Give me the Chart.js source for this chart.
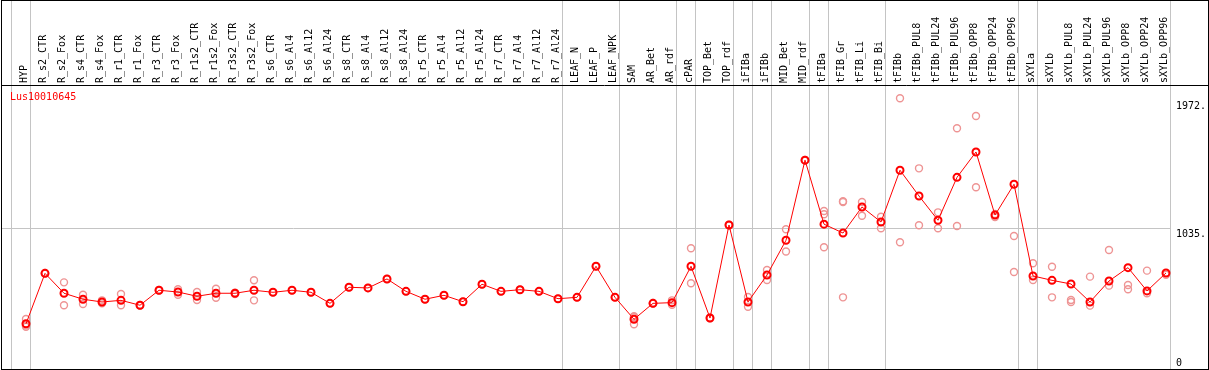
<!DOCTYPE html>
<html><head><meta charset="utf-8">
<script src="https://cdn.jsdelivr.net/npm/chart.js@4/dist/chart.umd.min.js"></script>
<style>html,body{margin:0;padding:0;background:#fff;overflow:hidden}#wrap{width:1209px;height:370px;position:relative}canvas{display:block}</style>
</head><body><div id="wrap"><canvas id="c" width="1209" height="370"></canvas></div>
<script>
const geneName = 'Lus10010645';
const categories = ['HYP','R_s2_CTR','R_s2_Fox','R_s4_CTR','R_s4_Fox','R_r1_CTR','R_r1_Fox','R_r3_CTR','R_r3_Fox','R_r1s2_CTR','R_r1s2_Fox','R_r3s2_CTR','R_r3s2_Fox','R_s6_CTR','R_s6_Al4','R_s6_Al12','R_s6_Al24','R_s8_CTR','R_s8_Al4','R_s8_Al12','R_s8_Al24','R_r5_CTR','R_r5_Al4','R_r5_Al12','R_r5_Al24','R_r7_CTR','R_r7_Al4','R_r7_Al12','R_r7_Al24','LEAF_N','LEAF_P','LEAF_NPK','SAM','AR_Bet','AR_rdf','cPAR','TOP_Bet','TOP_rdf','iFIBa','iFIBb','MID_Bet','MID_rdf','tFIBa','tFIB_Gr','tFIB_Li','tFIB_Bi','tFIBb','tFIBb_PUL8','tFIBb_PUL24','tFIBb_PUL96','tFIBb_OPP8','tFIBb_OPP24','tFIBb_OPP96','sXYLa','sXYLb','sXYLb_PUL8','sXYLb_PUL24','sXYLb_PUL96','sXYLb_OPP8','sXYLb_OPP24','sXYLb_OPP96'];
const meanValues = [332,702,556,512,492,504,468,578,565,534,556,556,578,563,578,563,482,600,595,661,570,512,541,494,622,570,582,570,516,526,754,526,365,482,487,754,374,1057,492,690,945,1533,1063,998,1189,1079,1459,1270,1092,1407,1593,1130,1356,683,651,624,492,646,744,573,705];
const rep1Values = [367,705,636,545,504,550,470,580,585,565,589,560,651,563,578,563,482,600,595,661,570,512,541,494,622,570,582,570,516,526,754,526,387,484,504,886,376,1059,529,727,1026,1535,1160,1232,1226,1118,1987,1473,1150,1767,1857,1116,712,776,751,506,678,874,585,722];
const rep2Values = [320,700,468,477,482,468,465,576,545,506,523,551,504,null,null,null,null,null,null,null,null,null,null,null,null,null,null,null,null,null,null,null,380,480,472,629,372,1055,457,653,863,1531,1136,1226,1125,1033,930,1055,1033,1050,1334,1138,976,653,526,492,465,612,617,556,692];
const rep3Values = [310,null,null,null,null,null,null,null,null,null,null,null,null,null,null,null,null,null,null,null,null,null,null,null,null,null,null,null,null,null,null,null,328,null,null,null,null,null,null,null,null,null,894,526,null,null,null,null,null,null,null,null,null,null,null,null,null,null,null,null,null];
const separatorAfter = [-1,0,28,31,34,35,37,38,39,41,42,45,52,53,60];
const yTickValues = [0,1035,1972];
const yTickLabels = ['0','1035.','1972.'];

const FONT = '"DejaVu Sans Mono", monospace';
const repPoints = [];
[rep1Values, rep2Values, rep3Values].forEach(arr => arr.forEach((v, i) => { if (v !== null) repPoints.push({x: i, y: v}); }));
const meanPoints = meanValues.map((v, i) => ({x: i, y: v}));

const xMin = -25 / 19, xMax = xMin + 1170 / 19;
const isSep = v => !Number.isInteger(v);

const framePlugin = {
  id: 'frame',
  afterDraw(chart) {
    const {ctx, chartArea} = chart;
    ctx.save();
    ctx.strokeStyle = '#000';
    ctx.lineWidth = 1;
    ctx.strokeRect(1.5, 0.5, 1207, 369);
    ctx.beginPath();
    ctx.moveTo(1, chartArea.top + 0.5);
    ctx.lineTo(1208, chartArea.top + 0.5);
    ctx.stroke();
    ctx.fillStyle = '#ff0000';
    ctx.font = '10px ' + FONT;
    ctx.textBaseline = 'middle';
    ctx.textAlign = 'left';
    ctx.fillText(geneName, chartArea.left + 9, chartArea.top + 12);
    ctx.restore();
  }
};

const noPad = s => { s.paddingLeft = 0; s.paddingRight = 0; s.paddingTop = 0; s.paddingBottom = 0; };

new Chart(document.getElementById('c'), {
  data: {
    datasets: [
      { type: 'line', label: 'mean', data: meanPoints, borderColor: '#ff0000', borderWidth: 1, tension: 0,
        pointRadius: 3.5, pointBorderWidth: 2, pointBorderColor: '#ff0000', pointBackgroundColor: 'rgba(0,0,0,0)', order: 0 },
      { type: 'scatter', label: 'replicates', data: repPoints, pointRadius: 3.5, pointBorderWidth: 1.4,
        pointBorderColor: '#ee9494', pointBackgroundColor: 'rgba(0,0,0,0)', order: 1 }
    ]
  },
  options: {
    responsive: false,
    animation: false,
    devicePixelRatio: 1,
    layout: { autoPadding: false, padding: { left: 1, right: 0, top: 0, bottom: 1 } },
    plugins: { legend: { display: false }, tooltip: { enabled: false }, title: { display: false } },
    scales: {
      x: {
        type: 'linear', position: 'top', min: xMin, max: xMax,
        afterBuildTicks: s => {
          const t = categories.map((c, i) => ({value: i}));
          separatorAfter.forEach(k => t.push({value: k + 0.25}));
          t.sort((a, b) => a.value - b.value);
          s.ticks = t;
        },
        afterFit: s => { s.height = 85; noPad(s); },
        ticks: {
          autoSkip: false, minRotation: 90, maxRotation: 90, padding: -83, labelOffset: 10.5,
          font: { family: FONT, size: 10 }, color: '#000',
          callback: v => isSep(v) ? '' : categories[v]
        },
        grid: {
          drawTicks: true, tickLength: 85, lineWidth: 1,
          color: ctx => (ctx.tick && isSep(ctx.tick.value)) ? '#c4c4c4' : 'rgba(0,0,0,0)',
          tickColor: ctx => (ctx.tick && isSep(ctx.tick.value)) ? '#c4c4c4' : 'rgba(0,0,0,0)'
        },
        border: { display: false }
      },
      y: {
        type: 'linear', position: 'right', min: 0, max: 284 * 1035 / 141,
        afterBuildTicks: s => { s.ticks = yTickValues.map(v => ({value: v})); },
        afterFit: s => { s.width = 38; noPad(s); },
        ticks: {
          padding: 5, font: { family: FONT, size: 10 }, color: '#000',
          callback: v => { const lab = yTickLabels[yTickValues.indexOf(v)]; return v === 0 ? [lab, ''] : ['', lab]; }
        },
        grid: {
          drawTicks: false, lineWidth: 1,
          color: ctx => (ctx.tick && ctx.tick.value === 1035) ? '#c4c4c4' : 'rgba(0,0,0,0)'
        },
        border: { display: false }
      }
    }
  },
  plugins: [framePlugin]
});
</script>
</body></html>
